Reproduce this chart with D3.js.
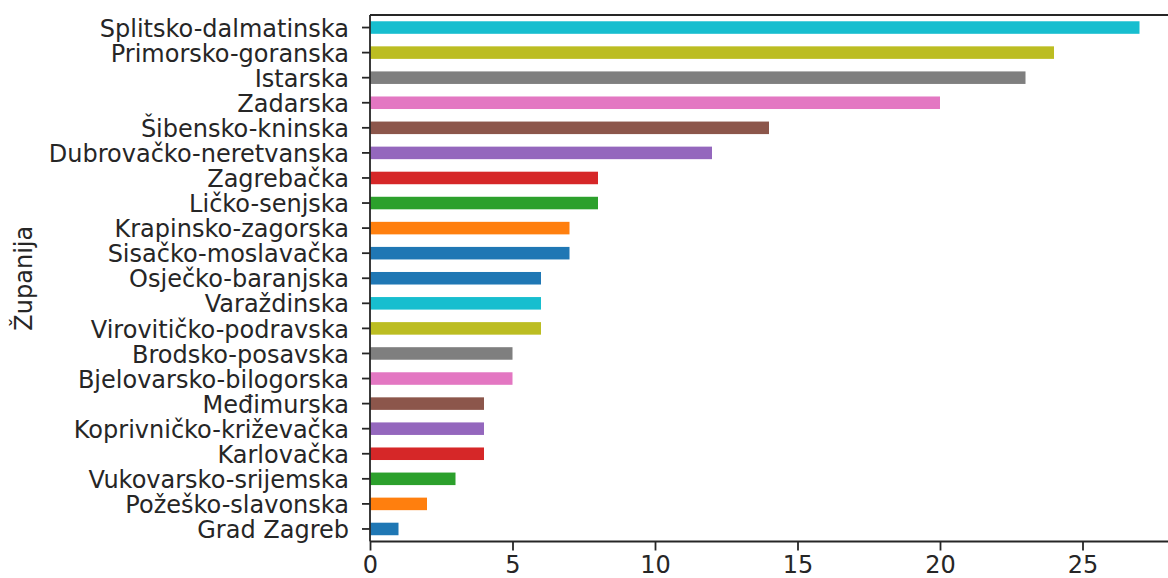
<!DOCTYPE html>
<html><head><meta charset="utf-8">
<script src="https://cdn.jsdelivr.net/npm/d3@7"></script>
<style>body{margin:0;background:#fff}svg{display:block}text{font-family:"DejaVu Sans",sans-serif;fill:#262626}</style>
</head><body>
<svg id="c" width="1168" height="578"></svg>
<script>
const categories = ["Splitsko-dalmatinska","Primorsko-goranska","Istarska","Zadarska","Šibensko-kninska","Dubrovačko-neretvanska","Zagrebačka","Ličko-senjska","Krapinsko-zagorska","Sisačko-moslavačka","Osječko-baranjska","Varaždinska","Virovitičko-podravska","Brodsko-posavska","Bjelovarsko-bilogorska","Međimurska","Koprivničko-križevačka","Karlovačka","Vukovarsko-srijemska","Požeško-slavonska","Grad Zagreb"];
const values = [27,24,23,20,14,12,8,8,7,7,6,6,6,5,5,4,4,4,3,2,1];
const colorIndex = [9,8,7,6,5,4,3,2,1,0,0,9,8,7,6,5,4,3,2,1,0];
const palette = ["#1f77b4","#ff7f0e","#2ca02c","#d62728","#9467bd","#8c564b","#e377c2","#7f7f7f","#bcbd22","#17becf"];
const xTicks = [0,5,10,15,20,25];
const yLabel = "Županija";

const svg = d3.select("#c");
const L = 370, T = 15, B = 541.5;
const x = d3.scaleLinear().domain([0, d3.max(values) * 1.05]).range([L, L + d3.max(values) * 1.05 * 28.5]);
const y = d3.scaleBand().domain(categories).range([T, B]).paddingInner(0.5).paddingOuter(0.25);

svg.append("g").selectAll("rect").data(categories).join("rect")
  .attr("x", x(0)).attr("y", d => y(d))
  .attr("width", (d,i) => x(values[i]) - x(0)).attr("height", y.bandwidth())
  .attr("fill", (d,i) => palette[colorIndex[i]]);

const fs = 24;
const xAxis = svg.append("g").attr("transform", `translate(0,${B})`)
  .call(d3.axisBottom(x).tickValues(xTicks).tickSize(9).tickPadding(5).tickFormat(d3.format("d")));
xAxis.select(".domain").remove();
xAxis.selectAll("line").attr("stroke", "#262626").attr("stroke-width", 1.8);
xAxis.selectAll("text").attr("font-size", fs).attr("fill", "#262626").style("font-family", "DejaVu Sans");

const yAxis = svg.append("g").attr("transform", `translate(${L},0)`)
  .call(d3.axisLeft(y).tickSize(8).tickPadding(13));
yAxis.select(".domain").remove();
yAxis.selectAll("line").attr("stroke", "#262626").attr("stroke-width", 1.8);
yAxis.selectAll("text").attr("font-size", fs).attr("dy", "0.38em").attr("fill", "#262626").style("font-family", "DejaVu Sans");

// spines
const R = x.range()[1];
svg.append("path").attr("d", `M${L},${T}H${R}M${L},${B}H${R}M${L},${T}V${B}M${R},${T}V${B}`)
  .attr("stroke", "#262626").attr("stroke-width", 1.8).attr("fill", "none");

svg.append("text").attr("transform", `translate(32,${(T+B)/2}) rotate(-90)`)
  .attr("text-anchor", "middle").attr("font-size", fs).text(yLabel);
</script>
</body></html>
